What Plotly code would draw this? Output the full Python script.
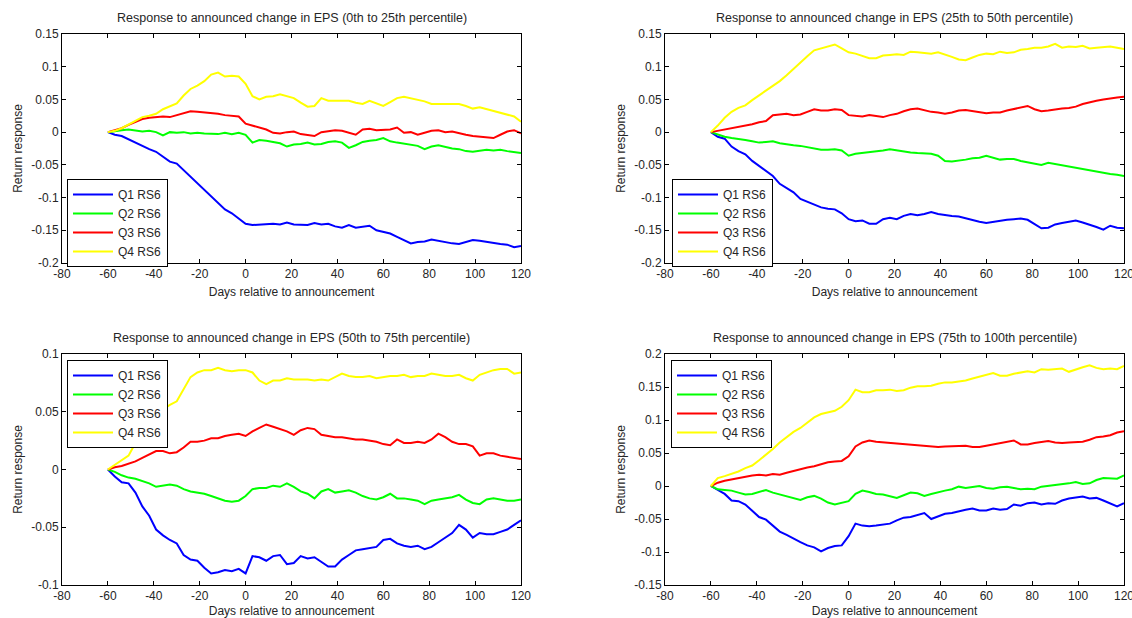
import plotly.graph_objects as go

# ---------------- data ----------------
days = list(range(-60, 121, 3))
series_names = ["Q1 RS6", "Q2 RS6", "Q3 RS6", "Q4 RS6"]
series_colors = ["#0000FF", "#00FF00", "#FF0000", "#FFFF00"]

panel_titles = [
    "Response to announced change in EPS (0th to 25th percentile)",
    "Response to announced change in EPS (25th to 50th percentile)",
    "Response to announced change in EPS (50th to 75th percentile)",
    "Response to announced change in EPS (75th to 100th percentile)",
]

# Panel 1: 0th-25th percentile
p1_q1 = [0, -0.004, -0.006, -0.011, -0.017, -0.022, -0.026, -0.030, -0.038, -0.045, -0.048,
         -0.058, -0.068, -0.079, -0.088, -0.098, -0.109, -0.118, -0.124, -0.132, -0.140,
         -0.142, -0.141, -0.141, -0.140, -0.141, -0.138, -0.141, -0.141, -0.142, -0.139,
         -0.141, -0.140, -0.144, -0.146, -0.142, -0.146, -0.145, -0.143, -0.150, -0.152,
         -0.155, -0.160, -0.165, -0.170, -0.168, -0.167, -0.164, -0.166, -0.169, -0.170,
         -0.171, -0.168, -0.165, -0.166, -0.168, -0.170, -0.171, -0.172, -0.176, -0.174]
p1_q2 = [0, 0.002, 0.003, 0.004, 0.003, 0.001, 0.002, 0.000, -0.005, 0.000, -0.001,
         0.000, -0.002, -0.001, -0.002, -0.002, -0.003, -0.001, -0.003, -0.001, -0.004,
         -0.016, -0.012, -0.013, -0.015, -0.017, -0.022, -0.019, -0.018, -0.016, -0.019,
         -0.018, -0.015, -0.014, -0.016, -0.024, -0.020, -0.015, -0.013, -0.012, -0.009,
         -0.014, -0.016, -0.018, -0.020, -0.021, -0.026, -0.022, -0.020, -0.023, -0.025,
         -0.026, -0.029, -0.030, -0.029, -0.027, -0.028, -0.027, -0.029, -0.030, -0.032]
p1_q3 = [0, 0.003, 0.006, 0.011, 0.016, 0.020, 0.022, 0.023, 0.024, 0.023, 0.026,
         0.030, 0.032, 0.031, 0.030, 0.030, 0.028, 0.026, 0.025, 0.024, 0.013,
         0.010, 0.008, 0.004, -0.001, -0.002, 0.000, 0.001, -0.003, -0.005, -0.006,
         0.000, 0.001, 0.003, 0.002, -0.001, -0.004, 0.004, 0.005, 0.003, 0.004,
         0.004, 0.007, -0.001, 0.000, -0.004, -0.001, 0.002, 0.003, 0.000, 0.001,
         -0.002, -0.004, -0.006, -0.007, -0.008, -0.009, -0.004, 0.001, 0.003, -0.002]
p1_q4 = [0, 0.002, 0.006, 0.012, 0.018, 0.023, 0.025, 0.028, 0.035, 0.039, 0.044,
         0.056, 0.066, 0.071, 0.078, 0.088, 0.091, 0.085, 0.086, 0.085, 0.074,
         0.055, 0.050, 0.054, 0.055, 0.058, 0.055, 0.052, 0.045, 0.039, 0.040,
         0.052, 0.048, 0.048, 0.049, 0.048, 0.045, 0.043, 0.048, 0.044, 0.040,
         0.046, 0.052, 0.054, 0.052, 0.049, 0.047, 0.043, 0.043, 0.043, 0.043,
         0.043, 0.040, 0.036, 0.038, 0.035, 0.033, 0.030, 0.026, 0.024, 0.016]

# Panel 2: 25th-50th percentile
p2_q1 = [0, -0.007, -0.010, -0.022, -0.029, -0.034, -0.044, -0.052, -0.059, -0.067, -0.079,
         -0.085, -0.092, -0.102, -0.106, -0.110, -0.115, -0.117, -0.118, -0.124, -0.133,
         -0.136, -0.135, -0.140, -0.140, -0.133, -0.131, -0.133, -0.128, -0.125, -0.127,
         -0.125, -0.122, -0.125, -0.127, -0.128, -0.129, -0.132, -0.135, -0.137, -0.139,
         -0.137, -0.135, -0.134, -0.133, -0.132, -0.134, -0.140, -0.147, -0.146, -0.141,
         -0.139, -0.137, -0.135, -0.138, -0.141, -0.145, -0.149, -0.143, -0.146, -0.147]
p2_q2 = [0, -0.004, -0.007, -0.009, -0.010, -0.012, -0.014, -0.016, -0.015, -0.014, -0.017,
         -0.019, -0.020, -0.021, -0.023, -0.026, -0.027, -0.027, -0.026, -0.028, -0.036,
         -0.033, -0.032, -0.031, -0.029, -0.028, -0.026, -0.028, -0.030, -0.031, -0.032,
         -0.033, -0.033, -0.036, -0.044, -0.045, -0.044, -0.042, -0.040, -0.039, -0.036,
         -0.039, -0.042, -0.041, -0.041, -0.044, -0.046, -0.049, -0.050, -0.047, -0.049,
         -0.050, -0.053, -0.055, -0.057, -0.059, -0.061, -0.063, -0.064, -0.065, -0.067]
p2_q3 = [0, 0.002, 0.004, 0.005, 0.007, 0.010, 0.012, 0.015, 0.017, 0.026, 0.027,
         0.028, 0.026, 0.027, 0.031, 0.035, 0.033, 0.033, 0.035, 0.034, 0.026,
         0.025, 0.024, 0.026, 0.024, 0.023, 0.026, 0.028, 0.032, 0.035, 0.036,
         0.033, 0.031, 0.030, 0.028, 0.030, 0.033, 0.034, 0.032, 0.030, 0.029,
         0.030, 0.030, 0.033, 0.035, 0.038, 0.040, 0.035, 0.032, 0.033, 0.035,
         0.036, 0.037, 0.039, 0.043, 0.046, 0.048, 0.050, 0.052, 0.053, 0.054]
p2_q4 = [0, 0.010, 0.022, 0.031, 0.037, 0.041, 0.049, 0.056, 0.063, 0.070, 0.078,
         0.087, 0.097, 0.106, 0.116, 0.125, 0.128, 0.131, 0.134, 0.128, 0.122,
         0.120, 0.117, 0.113, 0.113, 0.117, 0.118, 0.119, 0.118, 0.123, 0.122,
         0.121, 0.120, 0.122, 0.119, 0.115, 0.111, 0.110, 0.114, 0.118, 0.120,
         0.119, 0.123, 0.121, 0.122, 0.126, 0.127, 0.129, 0.129, 0.131, 0.135,
         0.129, 0.131, 0.130, 0.132, 0.128, 0.129, 0.130, 0.131, 0.129, 0.127]

# Panel 3: 50th-75th percentile
p3_q1 = [0, -0.006, -0.011, -0.012, -0.020, -0.032, -0.040, -0.052, -0.057, -0.061, -0.064,
         -0.074, -0.078, -0.079, -0.085, -0.090, -0.089, -0.087, -0.088, -0.086, -0.090,
         -0.075, -0.076, -0.079, -0.075, -0.074, -0.082, -0.081, -0.075, -0.077, -0.076,
         -0.080, -0.084, -0.084, -0.078, -0.074, -0.070, -0.069, -0.068, -0.067, -0.061,
         -0.060, -0.064, -0.066, -0.067, -0.066, -0.069, -0.067, -0.063, -0.059, -0.055,
         -0.048, -0.052, -0.059, -0.055, -0.056, -0.056, -0.054, -0.052, -0.048, -0.044]
p3_q2 = [0, -0.002, -0.005, -0.007, -0.008, -0.010, -0.012, -0.015, -0.014, -0.013, -0.014,
         -0.017, -0.019, -0.020, -0.021, -0.023, -0.025, -0.027, -0.028, -0.027, -0.023,
         -0.017, -0.016, -0.016, -0.014, -0.015, -0.012, -0.015, -0.019, -0.021, -0.025,
         -0.019, -0.017, -0.020, -0.019, -0.018, -0.020, -0.023, -0.025, -0.026, -0.024,
         -0.021, -0.025, -0.025, -0.026, -0.027, -0.030, -0.027, -0.026, -0.025, -0.024,
         -0.022, -0.026, -0.029, -0.030, -0.026, -0.025, -0.026, -0.027, -0.027, -0.026]
p3_q3 = [0, 0.002, 0.003, 0.005, 0.007, 0.010, 0.013, 0.016, 0.016, 0.014, 0.015,
         0.019, 0.024, 0.024, 0.025, 0.027, 0.027, 0.029, 0.030, 0.031, 0.029,
         0.033, 0.036, 0.039, 0.037, 0.035, 0.033, 0.030, 0.034, 0.036, 0.035,
         0.030, 0.029, 0.028, 0.028, 0.027, 0.026, 0.026, 0.025, 0.024, 0.022,
         0.021, 0.026, 0.023, 0.023, 0.024, 0.023, 0.026, 0.031, 0.028, 0.024,
         0.022, 0.022, 0.020, 0.012, 0.014, 0.014, 0.012, 0.011, 0.010, 0.009]
p3_q4 = [0, 0.004, 0.008, 0.012, 0.023, 0.030, 0.038, 0.046, 0.052, 0.056, 0.059,
         0.069, 0.080, 0.084, 0.086, 0.086, 0.088, 0.086, 0.085, 0.086, 0.086,
         0.084, 0.077, 0.074, 0.077, 0.077, 0.079, 0.078, 0.078, 0.078, 0.077,
         0.078, 0.077, 0.080, 0.083, 0.081, 0.080, 0.080, 0.081, 0.079, 0.080,
         0.081, 0.081, 0.082, 0.080, 0.081, 0.081, 0.083, 0.082, 0.081, 0.081,
         0.082, 0.079, 0.077, 0.082, 0.084, 0.086, 0.087, 0.087, 0.083, 0.084]

# Panel 4: 75th-100th percentile
p4_q1 = [0, -0.006, -0.012, -0.022, -0.023, -0.028, -0.038, -0.047, -0.051, -0.060, -0.069,
         -0.074, -0.080, -0.085, -0.090, -0.093, -0.099, -0.094, -0.091, -0.090, -0.076,
         -0.057, -0.060, -0.061, -0.060, -0.058, -0.057, -0.052, -0.048, -0.047, -0.044,
         -0.041, -0.050, -0.046, -0.042, -0.041, -0.038, -0.036, -0.034, -0.037, -0.037,
         -0.034, -0.036, -0.035, -0.028, -0.030, -0.026, -0.025, -0.028, -0.026, -0.027,
         -0.022, -0.019, -0.018, -0.016, -0.019, -0.018, -0.022, -0.027, -0.031, -0.026]
p4_q2 = [0, -0.005, -0.006, -0.007, -0.010, -0.013, -0.012, -0.009, -0.006, -0.010, -0.013,
         -0.016, -0.018, -0.021, -0.017, -0.015, -0.019, -0.025, -0.028, -0.025, -0.023,
         -0.012, -0.007, -0.009, -0.012, -0.013, -0.016, -0.018, -0.014, -0.010, -0.011,
         -0.015, -0.012, -0.009, -0.007, -0.005, -0.001, -0.003, -0.001, 0.000, -0.003,
         -0.004, -0.002, -0.001, -0.003, -0.005, -0.004, -0.005, -0.001, 0.000, 0.002,
         0.003, 0.004, 0.006, 0.003, 0.004, 0.009, 0.012, 0.011, 0.011, 0.016]
p4_q3 = [0, 0.005, 0.008, 0.010, 0.012, 0.015, 0.016, 0.017, 0.016, 0.018, 0.017,
         0.020, 0.023, 0.026, 0.028, 0.030, 0.033, 0.036, 0.037, 0.038, 0.045,
         0.060, 0.066, 0.069, 0.067, 0.066, 0.066, 0.065, 0.063, 0.063, 0.061,
         0.060, 0.060, 0.059, 0.060, 0.060, 0.060, 0.061, 0.059, 0.059, 0.061,
         0.063, 0.064, 0.066, 0.069, 0.063, 0.063, 0.065, 0.067, 0.068, 0.066,
         0.065, 0.066, 0.066, 0.067, 0.070, 0.074, 0.075, 0.077, 0.081, 0.083]
p4_q4 = [0, 0.012, 0.015, 0.018, 0.022, 0.027, 0.031, 0.039, 0.047, 0.056, 0.066,
         0.074, 0.082, 0.088, 0.096, 0.104, 0.109, 0.111, 0.114, 0.120, 0.130,
         0.146, 0.142, 0.142, 0.145, 0.145, 0.146, 0.144, 0.145, 0.149, 0.151,
         0.151, 0.152, 0.155, 0.157, 0.157, 0.158, 0.160, 0.163, 0.166, 0.169,
         0.171, 0.167, 0.167, 0.170, 0.172, 0.174, 0.172, 0.177, 0.176, 0.177,
         0.178, 0.173, 0.177, 0.180, 0.183, 0.179, 0.177, 0.178, 0.177, 0.182]

panel_data = [
    [p1_q1, p1_q2, p1_q3, p1_q4],
    [p2_q1, p2_q2, p2_q3, p2_q4],
    [p3_q1, p3_q2, p3_q3, p3_q4],
    [p4_q1, p4_q2, p4_q3, p4_q4],
]

x_tickvals = [-80, -60, -40, -20, 0, 20, 40, 60, 80, 100, 120]
x_ticktext = ["-80", "-60", "-40", "-20", "0", "20", "40", "60", "80", "100", "120"]

y_tickvals_a = [-0.2, -0.15, -0.1, -0.05, 0, 0.05, 0.1, 0.15]
y_ticktext_a = ["-0.2", "-0.15", "-0.1", "-0.05", "0", "0.05", "0.1", "0.15"]
y_tickvals_c = [-0.1, -0.05, 0, 0.05, 0.1]
y_ticktext_c = ["-0.1", "-0.05", "0", "0.05", "0.1"]
y_tickvals_d = [-0.15, -0.1, -0.05, 0, 0.05, 0.1, 0.15, 0.2]
y_ticktext_d = ["-0.15", "-0.1", "-0.05", "0", "0.05", "0.1", "0.15", "0.2"]

y_ranges = [[-0.2, 0.15], [-0.2, 0.15], [-0.1, 0.1], [-0.15, 0.2]]
y_ticks = [(y_tickvals_a, y_ticktext_a), (y_tickvals_a, y_ticktext_a),
           (y_tickvals_c, y_ticktext_c), (y_tickvals_d, y_ticktext_d)]

x_label = "Days relative to announcement"
y_label = "Return response"

# ---------------- layout geometry (pixels) ----------------
W, H = 1132, 618
# (left, right, top, bottom) of each plot box
boxes = [(62, 521, 34, 263), (665, 1124, 34, 263),
         (62, 521, 354, 585), (665, 1124, 354, 585)]
legend_pos = [(67, 179), (672, 179), (67, 360), (671, 360)]

FONT = "Liberation Sans, Arial, sans-serif"
TXT = "#262626"

fig = go.Figure()
layout = dict(
    width=W, height=H, margin=dict(l=0, r=0, t=0, b=0, autoexpand=False),
    paper_bgcolor="white", plot_bgcolor="white",
    font=dict(family=FONT, size=12, color=TXT),
    annotations=[],
)

for i in range(4):
    l, r, t, b = boxes[i]
    ax = "" if i == 0 else str(i + 1)
    leg = "legend" if i == 0 else "legend" + str(i + 1)
    for j in range(4):
        fig.add_trace(go.Scatter(
            x=days, y=panel_data[i][j], mode="lines", name=series_names[j],
            line=dict(color=series_colors[j], width=2),
            xaxis="x" + ax, yaxis="y" + ax, legend=leg, hoverinfo="skip",
        ))
    common = dict(showline=True, linecolor="black", linewidth=1, mirror="ticks",
                  ticks="inside", ticklen=4, tickcolor="black", showgrid=False,
                  zeroline=False, automargin=False, ticklabeloverflow="allow",
                  tickfont=dict(family=FONT, size=12, color=TXT))
    layout["xaxis" + ax] = dict(
        domain=[l / W, r / W], anchor="y" + ax, range=[-80, 120],
        tickvals=x_tickvals, ticktext=x_ticktext,
        title=dict(text=x_label, standoff=7, font=dict(size=12, color=TXT)),
        **common)
    layout["yaxis" + ax] = dict(
        domain=[1 - b / H, 1 - t / H], anchor="x" + ax, range=y_ranges[i],
        tickvals=y_ticks[i][0], ticktext=y_ticks[i][1],
        title=dict(text=y_label, standoff=6, font=dict(size=12, color=TXT)),
        **common)
    lx, ly = legend_pos[i]
    layout[leg] = dict(
        x=lx / W, y=1 - ly / H, xanchor="left", yanchor="top",
        xref="paper", yref="paper", itemwidth=40,
        bgcolor="white", bordercolor="black", borderwidth=1,
        font=dict(family=FONT, size=12, color=TXT), tracegroupgap=0,
    )
    layout["annotations"].append(dict(
        text=panel_titles[i], x=(l + r) / 2 / W, y=1 - (t - 16) / H,
        xref="paper", yref="paper", xanchor="center", yanchor="middle",
        showarrow=False, font=dict(family=FONT, size=12.5, color=TXT),
    ))

fig.update_layout(**layout)
fig.write_html("out.html")
